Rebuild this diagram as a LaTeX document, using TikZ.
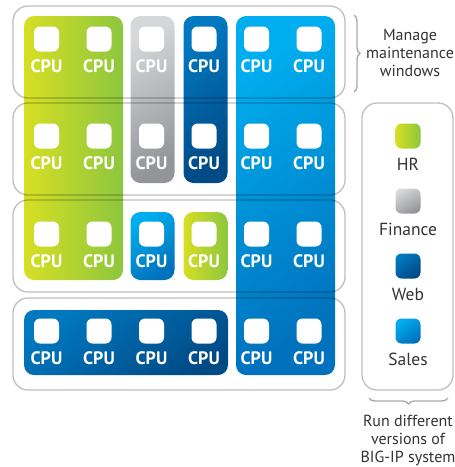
\documentclass[tikz,border=0pt]{standalone}
\usepackage{fontspec}
\setmainfont{PT Sans}
\usetikzlibrary{shapes,positioning,calc,decorations.pathreplacing}

\definecolor{hrlime}{HTML}{D7DF23}
\definecolor{hrgreen}{HTML}{8DC63F}
\definecolor{finlight}{HTML}{D6D7D9}
\definecolor{findark}{HTML}{939598}
\definecolor{weblight}{HTML}{0079C1}
\definecolor{webdark}{HTML}{004A85}
\definecolor{saleslight}{HTML}{00AEEF}
\definecolor{salesdark}{HTML}{0071BC}
\definecolor{textgray}{HTML}{333333}
\definecolor{bracegray}{HTML}{ABABAB}

\begin{document}
\begin{tikzpicture}[
  x=1pt, y=-1pt,
  block/.style={
    rectangle, rounded corners=10pt, inner sep=0pt
  },
  hr/.style={left color=hrlime, right color=hrgreen},
  finance/.style={top color=finlight, bottom color=findark, shading angle=30},
  web/.style={top color=weblight, bottom color=webdark, shading angle=35},
  sales/.style={top color=saleslight, bottom color=salesdark, shading angle=35},
  rowbox/.style={
    rectangle, rounded corners=15pt, draw=black, draw opacity=0.25,
    line width=1.3pt, minimum width=332pt, minimum height=92pt
  },
  slot/.style={
    rectangle, rounded corners=6pt, fill=white,
    minimum size=25pt, inner sep=0pt
  },
  cpulabel/.style={
    text=white, inner sep=0pt,
    font=\fontsize{18}{20}\selectfont\bfseries
  },
  swatch/.style={
    rectangle, rounded corners=6pt, minimum size=25pt, inner sep=0pt
  },
  keylabel/.style={
    text=textgray, inner sep=0pt, font=\fontsize{17.5}{20}\selectfont
  },
  note/.style={
    text=textgray, align=center, inner sep=0pt,
    font=\fontsize{16}{18}\selectfont
  },
  curly/.style={
    draw=bracegray, line width=1.4pt,
    decorate, decoration={brace, amplitude=6pt}
  }
]
\useasboundingbox (0,0) rectangle (455,467);

% ==================== TENANT BLOCKS ====================

\node (hrbig)    [block, hr,      minimum width=99pt,  minimum height=264pt] at (73.5,148)   {};
\node (finbig)   [block, finance, minimum width=44pt,  minimum height=167pt] at (152.5,99.5) {};
\node (webbig)   [block, web,     minimum width=44pt,  minimum height=167pt] at (205.5,99.5) {};
\node (salesbig) [block, sales,   minimum width=99pt,  minimum height=359pt] at (285.5,195.5) {};
\node (salessm)  [block, sales,   minimum width=44pt,  minimum height=68pt]  at (152.5,246)  {};
\node (hrsm)     [block, hr,      minimum width=44pt,  minimum height=68pt]  at (205.5,246)  {};
\node (webwide)  [block, web,     minimum width=204pt, minimum height=65pt]  at (126,342.5)  {};

% ==================== CHASSIS ROWS ====================

\foreach \r/\yy in {1/52,2/149,3/246,4/344}
  \node (row\r) [rowbox] at (179,\yy) {};

% ==================== CPU SLOTS ====================

\foreach \r/\yy in {1/39,2/136,3/234,4/331}
  \foreach \c/\xx in {1/46.5,2/99,3/151.5,4/204,5/256.5,6/309} {
    \node (slot\r\c) [slot] at (\xx,\yy) {};
    \node (cpu\r\c) [cpulabel, below=8pt of slot\r\c] {CPU};
  }

% ==================== LEGEND ====================

\node (legend) [rectangle, rounded corners=15pt, draw=black, draw opacity=0.25,
  line width=1.3pt, minimum width=91pt, minimum height=287pt] at (407.5,246.5) {};

\node (keyhr)    [swatch, hr]      at (408,136) {};
\node (keyfin)   [swatch, finance] at (408,201) {};
\node (keyweb)   [swatch, web]     at (408,266) {};
\node (keysales) [swatch, sales]   at (408,331) {};

\node (txthr)    [keylabel, below=9pt of keyhr]    {HR};
\node (txtfin)   [keylabel, below=9pt of keyfin]   {Finance};
\node (txtweb)   [keylabel, below=9pt of keyweb]   {Web};
\node (txtsales) [keylabel, below=9pt of keysales] {Sales};

% ==================== ANNOTATIONS ====================

\coordinate (maintop) at (354,15);
\coordinate (mainbot) at (354,92);
\draw [curly] (maintop) -- (mainbot);
\node (maint) [note] at (410,53) {Manage\\maintenance\\windows};

\coordinate (verright) at (448,398);
\coordinate (verleft)  at (369,398);
\draw [curly] (verright) -- (verleft);
\node (versions) [note] at (408,440) {Run different\\versions of\\BIG-IP system};

\end{tikzpicture}
\end{document}
